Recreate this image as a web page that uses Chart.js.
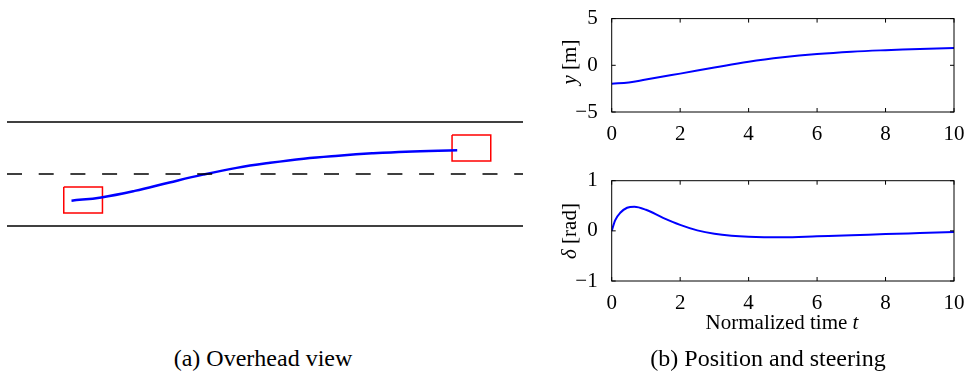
<!DOCTYPE html>
<html lang="en">
<head>
    <meta charset="UTF-8">
    <title>Overhead view / Position and steering</title>
    <script src="https://cdn.jsdelivr.net/npm/chart.js"></script>
    <style>
        body { margin: 0; background: #fff; }
        #page { position: relative; width: 967px; height: 374px; overflow: hidden; font-family: 'Liberation Serif', 'Times New Roman', serif; color: #000; }
        canvas { position: absolute; }
        .txt { position: absolute; white-space: nowrap; transform: translate(-50%, -50%); }
        .rot { transform: translate(-50%, -50%) rotate(-90deg); }
    </style>
</head>
<body>
<div id="page">
    <canvas id="overhead" width="516" height="208" style="left:7px; top:69.6px;"></canvas>
    <canvas id="posChart" width="407" height="150" style="left:560px; top:0px;"></canvas>
    <canvas id="steerChart" width="407" height="180" style="left:560px; top:135px;"></canvas>

    <div class="txt rot" style="left:569px; top:62px; font-size:21px;"><i>y</i> [m]</div>
    <div class="txt rot" style="left:569px; top:231px; font-size:21px;"><i>δ</i> [rad]</div>
    <div class="txt" style="left:782px; top:322px; font-size:21px;">Normalized time <i>t</i></div>
    <div class="txt" style="left:263px; top:358px; font-size:24px;">(a) Overhead view</div>
    <div class="txt" style="left:768px; top:358px; font-size:24px;">(b) Position and steering</div>
</div>

<script>
// overhead view (meters)
const roadX = [0, 40];
const laneTop = [4, 4];
const laneMid = [0, 0];
const laneBot = [-4, -4];
const pathX = [5, 7.3, 9.9, 12.6, 15.2, 17.8, 20.4, 23.0, 25.7, 28.3, 30.9, 34.9];
const pathY = [-2.05, -1.8, -1.3, -0.65, -0.05, 0.47, 0.86, 1.18, 1.41, 1.59, 1.72, 1.82];
const carStartX = [4.4, 7.4, 7.4, 4.4, 4.4];
const carStartY = [-1, -1, -3, -3, -1];
const carEndX = [34.5, 37.5, 37.5, 34.5, 34.5];
const carEndY = [3, 3, 1, 1, 3];

// position vs time
const posT = [0, 0.5, 1, 1.5, 2, 3, 4, 5, 6, 7, 8, 9, 10];
const posY = [-1.97, -1.84, -1.52, -1.2, -0.89, -0.24, 0.38, 0.85, 1.2, 1.45, 1.62, 1.75, 1.85];

// steering vs time
const steerT = [0, 0.1, 0.25, 0.45, 0.66, 1, 1.5, 2, 2.5, 3, 3.5, 4, 5, 6, 7, 8, 9, 10];
const steerD = [0, 0.21, 0.36, 0.46, 0.48, 0.42, 0.26, 0.12, 0.01, -0.06, -0.1, -0.12, -0.13, -0.11, -0.09, -0.065, -0.045, -0.025];

const timeTicks = [0, 2, 4, 6, 8, 10];
const posTicks = [-5, 0, 5];
const steerTicks = [-1, 0, 1];

const pts = (xs, ys) => xs.map((x, i) => ({ x: x, y: ys[i] }));
const minus = v => String(v).replace('-', '\u2212');
const tickFont = { family: "'Liberation Serif', 'Times New Roman', serif", size: 21 };

// box around the plot and inward ticks on all four sides
const boxTicks = {
    id: 'boxTicks',
    afterDraw(chart) {
        const ctx = chart.ctx, a = chart.chartArea;
        const xs = chart.scales.x, ys = chart.scales.y;
        const len = 4;
        ctx.save();
        ctx.strokeStyle = '#000';
        ctx.lineWidth = 1;
        ctx.strokeRect(a.left, a.top, a.width, a.height);
        ctx.beginPath();
        xs.ticks.forEach(t => {
            const p = xs.getPixelForValue(t.value);
            ctx.moveTo(p, a.bottom); ctx.lineTo(p, a.bottom - len);
            ctx.moveTo(p, a.top); ctx.lineTo(p, a.top + len);
        });
        ys.ticks.forEach(t => {
            const p = ys.getPixelForValue(t.value);
            ctx.moveTo(a.left, p); ctx.lineTo(a.left + len, p);
            ctx.moveTo(a.right, p); ctx.lineTo(a.right - len, p);
        });
        ctx.stroke();
        ctx.restore();
    }
};

function timeChart(id, xs, ys, yTicks, padTop, areaH, canvasH, curve) {
    return new Chart(document.getElementById(id), {
        type: 'scatter',
        data: {
            datasets: [Object.assign({
                data: pts(xs, ys),
                showLine: true,
                borderColor: '#0000ff',
                borderWidth: 2,
                pointRadius: 0
            }, curve)]
        },
        options: {
            responsive: false,
            animation: false,
            layout: { padding: { top: padTop, right: 13, left: 0, bottom: 0 } },
            plugins: { legend: { display: false }, tooltip: { enabled: false } },
            scales: {
                x: {
                    type: 'linear', min: 0, max: 10,
                    grid: { display: false }, border: { display: false },
                    afterBuildTicks: s => { s.ticks = timeTicks.map(v => ({ value: v })); },
                    ticks: { color: '#000', font: tickFont, padding: 2, maxRotation: 0, callback: minus },
                    afterFit: s => { s.height = canvasH - padTop - areaH; }
                },
                y: {
                    type: 'linear', min: yTicks[0], max: yTicks[yTicks.length - 1],
                    grid: { display: false }, border: { display: false },
                    afterBuildTicks: s => { s.ticks = yTicks.map(v => ({ value: v })); },
                    ticks: { color: '#000', font: tickFont, padding: 6, callback: minus },
                    afterFit: s => { s.width = 51.7; }
                }
            }
        },
        plugins: [boxTicks]
    });
}

timeChart('posChart', posT, posY, posTicks, 12.5, 99.5, 150, { tension: 0.4 });
timeChart('steerChart', steerT, steerD, steerTicks, 45.7, 100.3, 180, { cubicInterpolationMode: 'monotone' });

// overhead view
const lineSet = (data, color, width, dash) => ({
    data: data, showLine: true, borderColor: color, borderWidth: width,
    borderDash: dash || [], pointRadius: 0, clip: false, tension: 0
});

new Chart(document.getElementById('overhead'), {
    type: 'scatter',
    data: {
        datasets: [
            lineSet(pts(roadX, laneTop), '#000', 1.7),
            lineSet(pts(roadX, laneMid), '#000', 1.7, [15, 16.7]),
            lineSet(pts(roadX, laneBot), '#000', 1.7),
            Object.assign(lineSet(pts(pathX, pathY), '#0000ff', 2.5), { tension: 0.4 }),
            lineSet(pts(carStartX, carStartY), '#ff0000', 1.5),
            lineSet(pts(carEndX, carEndY), '#ff0000', 1.5)
        ]
    },
    options: {
        responsive: false,
        animation: false,
        layout: { padding: 0 },
        plugins: { legend: { display: false }, tooltip: { enabled: false } },
        scales: {
            x: { type: 'linear', min: 0, max: 40, display: false },
            y: { type: 'linear', min: -8, max: 8, display: false }
        }
    }
});
</script>
</body>
</html>
